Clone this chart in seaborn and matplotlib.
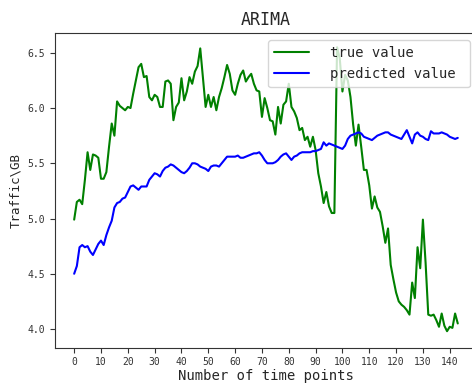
import numpy as np
import pandas as pd
import seaborn as sns
import matplotlib.pyplot as plt

# values
true_value = [
    4.99, 5.15, 5.17, 5.13, 5.35, 5.60, 5.44, 5.58, 5.57, 5.55,
    5.36, 5.36, 5.42, 5.65, 5.86, 5.75, 6.06, 6.02, 6.00, 5.98,
    6.01, 6.00, 6.13, 6.25, 6.37, 6.40, 6.28, 6.29, 6.10, 6.07,
    6.12, 6.10, 6.01, 6.01, 6.24, 6.25, 6.22, 5.89, 6.01, 6.05,
    6.27, 6.07, 6.15, 6.28, 6.22, 6.33, 6.38, 6.54, 6.28, 6.01,
    6.12, 6.01, 6.10, 5.98, 6.10, 6.18, 6.28, 6.39, 6.31, 6.16,
    6.12, 6.22, 6.30, 6.34, 6.24, 6.28, 6.31, 6.22, 6.16, 6.15,
    5.92, 6.09, 6.00, 5.89, 5.88, 5.76, 6.01, 5.86, 6.03, 6.06,
    6.22, 6.01, 5.97, 5.91, 5.80, 5.82, 5.71, 5.74, 5.65, 5.74,
    5.62, 5.41, 5.29, 5.14, 5.24, 5.11, 5.05, 5.05, 6.55, 6.45,
    6.15, 6.30, 6.25, 6.10, 5.85, 5.66, 5.85, 5.65, 5.44, 5.44,
    5.30, 5.09, 5.20, 5.10, 5.06, 4.93, 4.78, 4.91, 4.58, 4.45,
    4.33, 4.25, 4.22, 4.20, 4.17, 4.13, 4.42, 4.28, 4.74, 4.55,
    4.99, 4.60, 4.13, 4.12, 4.13, 4.08, 4.02, 4.14, 4.03, 3.98,
    4.02, 4.01, 4.14, 4.05,
]
predicted_value = [
    4.50, 4.57, 4.74, 4.76, 4.74, 4.75, 4.70, 4.67, 4.72, 4.77,
    4.80, 4.76, 4.85, 4.92, 4.98, 5.10, 5.14, 5.15, 5.18, 5.19,
    5.24, 5.29, 5.30, 5.28, 5.26, 5.29, 5.29, 5.29, 5.35, 5.38,
    5.41, 5.40, 5.38, 5.43, 5.46, 5.47, 5.49, 5.48, 5.46, 5.44,
    5.42, 5.41, 5.43, 5.46, 5.50, 5.50, 5.49, 5.47, 5.46, 5.45,
    5.43, 5.47, 5.48, 5.48, 5.47, 5.50, 5.53, 5.56, 5.56, 5.56,
    5.56, 5.57, 5.55, 5.55, 5.56, 5.57, 5.58, 5.59, 5.59, 5.60,
    5.57, 5.53, 5.50, 5.50, 5.50, 5.51, 5.53, 5.56, 5.58, 5.59,
    5.56, 5.53, 5.56, 5.57, 5.59, 5.60, 5.60, 5.60, 5.60, 5.61,
    5.61, 5.62, 5.63, 5.69, 5.66, 5.68, 5.67, 5.66, 5.65, 5.64,
    5.63, 5.66, 5.72, 5.75, 5.76, 5.77, 5.78, 5.77, 5.74, 5.73,
    5.72, 5.71, 5.73, 5.75, 5.76, 5.77, 5.78, 5.78, 5.76, 5.75,
    5.74, 5.73, 5.72, 5.76, 5.80, 5.74, 5.68, 5.76, 5.78, 5.75,
    5.74, 5.72, 5.71, 5.79, 5.77, 5.77, 5.77, 5.78, 5.77, 5.76,
    5.74, 5.73, 5.72, 5.73,
]
x_ticks = list(range(0, 150, 10))
y_ticks = [4.0, 4.5, 5.0, 5.5, 6.0, 6.5]

n = len(true_value)
df = pd.DataFrame({
    "t": list(range(n)) * 2,
    "traffic": true_value + predicted_value,
    "series": ["true value"] * n + ["predicted value"] * n,
})

sns.set_style("ticks")
plt.rcParams['font.family'] = ['DejaVu Sans Mono']

fig = plt.figure(figsize=(4.72, 3.83), dpi=100)
ax = fig.add_axes([0.1165, 0.092, 0.894, 0.822])

sns.lineplot(data=df, x="t", y="traffic", hue="series",
             palette={"true value": "green", "predicted value": "blue"},
             linewidth=1.5, ax=ax)

ax.set_xlim(-7.15, 150.15)
ax.set_ylim(3.83, 6.68)
ax.set_xticks(x_ticks)
ax.set_yticks(y_ticks)
ax.tick_params(labelsize=7, colors="#333333")
for s in ax.spines.values():
    s.set_color("#333333")

ax.set_title("ARIMA", fontsize=12)
ax.set_xlabel("Number of time points", fontsize=10, labelpad=1)
ax.set_ylabel("Traffic\\GB", fontsize=9, labelpad=4)

handles, labels = ax.get_legend_handles_labels()
ax.legend(handles, [l + " " for l in labels], loc="upper right", fontsize=10,
          handlelength=2.5, handletextpad=1.5, borderpad=0.45, framealpha=0.8)

plt.savefig("out.png", dpi=100)
